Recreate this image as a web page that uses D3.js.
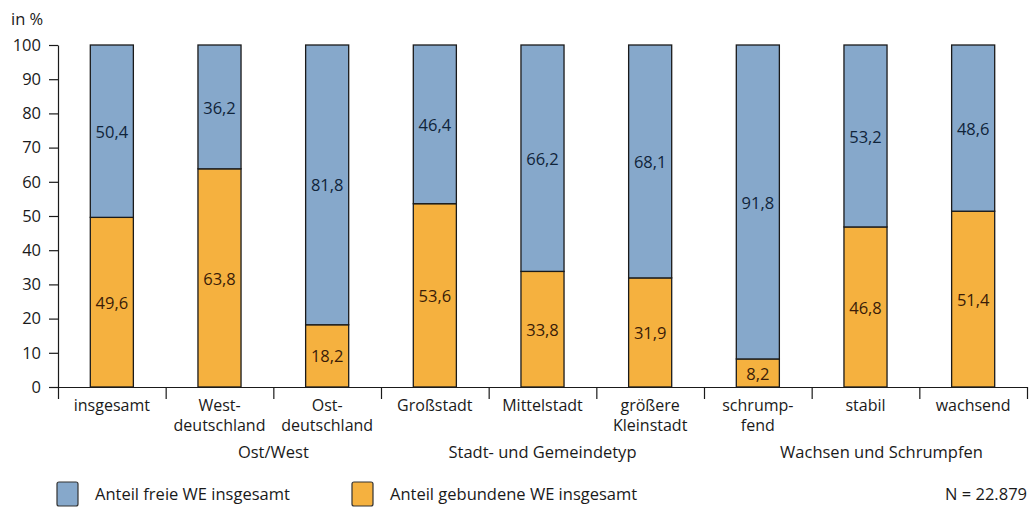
<!DOCTYPE html>
<html>
<head>
<meta charset="utf-8">
<script src="https://cdn.jsdelivr.net/npm/d3@7"></script>
<style>
	body { margin: 0; background: #fff; }
	svg text { font-family: "Open Sans", "Noto Sans", sans-serif; fill: #1a1a1a; }
	.axis path, .axis line { stroke: #1a1a1a; stroke-width: 1.2; }
	.axis text { font-size: 16.5px; }
</style>
</head>
<body>
<svg id="chart" width="1032" height="510"></svg>
<script>
var categories = ["insgesamt", "West-|deutschland", "Ost-|deutschland", "Großstadt", "Mittelstadt", "größere|Kleinstadt", "schrump-|fend", "stabil", "wachsend"];
var gebunden = [49.6, 63.8, 18.2, 53.6, 33.8, 31.9, 8.2, 46.8, 51.4];
var frei = [50.4, 36.2, 81.8, 46.4, 66.2, 68.1, 91.8, 53.2, 48.6];
var groupLabels = ["Ost/West", "Stadt- und Gemeindetyp", "Wachsen und Schrumpfen"];
var groupFrom = [1, 3, 6];
var groupTo = [2, 5, 8];
var seriesNames = ["Anteil freie WE insgesamt", "Anteil gebundene WE insgesamt"];
var yTicks = [0, 10, 20, 30, 40, 50, 60, 70, 80, 90, 100];
var note = "N = 22.879";

var colors = { frei: "#86a8cb", gebunden: "#f5b13f" };
var labelColors = { frei: "#10243a", gebunden: "#3a1c08" };

var svg = d3.select("#chart");
var margin = {top: 45, left: 58, right: 5, bottom: 123};
var width = 1032, height = 510;

var locale = d3.formatLocale({decimal: ",", thousands: ".", grouping: [3], currency: ["", " €"]});
var fmt = locale.format(".1f");

//Scales
var x = d3.scaleBand()
	.domain(d3.range(categories.length))
	.range([margin.left, 1027])
	.padding(0);
var xEdge = d3.scaleLinear()
	.domain([0, categories.length])
	.range([margin.left, 1027]);
var y = d3.scaleLinear()
	.domain([0, 100])
	.range([height - margin.bottom, margin.top]);

var barW = x.bandwidth() * 0.4;

//Stack the data
var rows = categories.map(function(c, i){
	return {i: i, gebunden: gebunden[i], frei: frei[i]};
});
var stack = d3.stack().keys(["gebunden", "frei"]);
var layers = stack(rows);

var bars = svg.append("g").attr("class", "bars");
layers.forEach(function(layer){
	var key = layer.key;
	bars.selectAll(".seg-" + key)
		.data(layer)
		.enter().append("rect")
		.attr("class", "seg-" + key)
		.attr("x", function(d){ return x(d.data.i) + (x.bandwidth() - barW) / 2; })
		.attr("y", function(d){ return y(d[1]); })
		.attr("width", barW)
		.attr("height", function(d){ return y(d[0]) - y(d[1]); })
		.attr("fill", colors[key])
		.attr("stroke", "#1a1a1a")
		.attr("stroke-width", 1.3);

	bars.selectAll(".lbl-" + key)
		.data(layer)
		.enter().append("text")
		.attr("class", "lbl-" + key)
		.attr("x", function(d){ return x(d.data.i) + x.bandwidth() / 2; })
		.attr("y", function(d){ return y((d[0] + d[1]) / 2); })
		.attr("dy", "0.4em")
		.attr("text-anchor", "middle")
		.style("font-size", "16.5px")
		.style("fill", labelColors[key])
		.text(function(d){ return fmt(d.data[key]); });
});

//Y axis
svg.append("g")
	.attr("class", "axis")
	.attr("transform", "translate(" + margin.left + ",0)")
	.call(d3.axisLeft(y).tickValues(yTicks).tickSize(9).tickPadding(8).tickSizeOuter(0));

//X axis with boundary ticks
svg.append("g")
	.attr("class", "axis")
	.attr("transform", "translate(0," + y(0) + ")")
	.call(d3.axisBottom(xEdge).ticks(categories.length).tickFormat("").tickSize(12).tickSizeOuter(0));

//Category labels
var catLabels = svg.append("g");
categories.forEach(function(c, i){
	var lines = c.split("|");
	var t = catLabels.append("text")
		.attr("text-anchor", "middle")
		.attr("transform", "translate(" + (x(i) + x.bandwidth() / 2) + "," + (y(0) + 24) + ")")
		.style("font-size", "16px");
	lines.forEach(function(line, k){
		t.append("tspan").attr("x", 0).attr("dy", k === 0 ? 0 : "1.25em").text(line);
	});
});

//Group labels (last one sits a bit right of its group centre in the original)
var groupNudge = [0, 0, 16];
groupLabels.forEach(function(g, k){
	var cx = (x(groupFrom[k]) + x(groupTo[k]) + x.bandwidth()) / 2;
	svg.append("text")
		.attr("x", cx + groupNudge[k])
		.attr("y", y(0) + 71)
		.attr("text-anchor", "middle")
		.style("font-size", "16.5px")
		.text(g);
});

//Unit label
svg.append("text")
	.attr("x", 11)
	.attr("y", 25)
	.style("font-size", "16.5px")
	.text("in %");

//Legend
var legendX = [57, 352];
var legendKeys = ["frei", "gebunden"];
legendKeys.forEach(function(key, k){
	svg.append("rect")
		.attr("x", legendX[k])
		.attr("y", 482)
		.attr("width", 21)
		.attr("height", 24)
		.attr("rx", 2)
		.attr("fill", colors[key])
		.attr("stroke", "#333")
		.attr("stroke-width", 1.2);
	svg.append("text")
		.attr("x", legendX[k] + 38)
		.attr("y", 500)
		.style("font-size", "16.5px")
		.text(seriesNames[k]);
});

svg.append("text")
	.attr("x", 1027)
	.attr("y", 500)
	.attr("text-anchor", "end")
	.style("font-size", "16.5px")
	.text(note);
</script>
</body>
</html>
